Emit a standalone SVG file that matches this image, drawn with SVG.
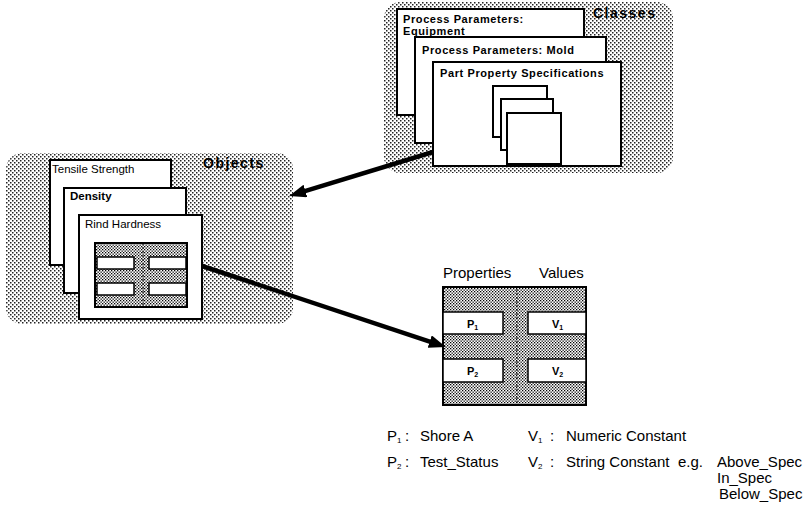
<svg xmlns="http://www.w3.org/2000/svg" width="804" height="511" viewBox="0 0 804 511">
<defs>
  <pattern id="lite" width="4" height="4" patternUnits="userSpaceOnUse">
    <rect width="4" height="4" fill="#fff"/>
    <rect x="0" y="0" width="1.5" height="1.5" fill="#222"/>
    <rect x="2" y="2" width="1.5" height="1.5" fill="#222"/>
  </pattern>
  <pattern id="dense" width="3" height="3" patternUnits="userSpaceOnUse">
    <rect width="3" height="3" fill="#fff"/>
    <rect x="0" y="0" width="1.3" height="1.3" fill="#000"/>
    <rect x="1.5" y="1.5" width="1.3" height="1.3" fill="#000"/>
  </pattern>
  <marker id="ah" markerUnits="userSpaceOnUse" markerWidth="17" markerHeight="13" refX="4" refY="6.5" orient="auto">
    <path d="M0,0 L17,6.5 L0,13 z" fill="#000"/>
  </marker>
  <style>
    .region { fill: url(#lite); stroke: none; }
    .card { fill: #fff; stroke: #000; stroke-width: 2; }
    .cell { fill: #fff; stroke: #000; stroke-width: 1.5; }
    .grid { fill: url(#dense); stroke: #000; stroke-width: 2; }
    .ttl { font-family: "Liberation Sans", Arial, sans-serif; font-size: 11px; font-weight: bold; letter-spacing: 0.6px; fill: #000; }
    .lbl { font-family: "Liberation Sans", Arial, sans-serif; font-size: 11.5px; fill: #000; }
    .big { font-family: "Liberation Sans", Arial, sans-serif; font-size: 14px; font-weight: bold; letter-spacing: 1.5px; fill: #000; }
    .hdr { font-family: "Liberation Sans", Arial, sans-serif; font-size: 15px; fill: #000; }
    .leg { font-family: "Liberation Sans", Arial, sans-serif; font-size: 15px; fill: #000; }
    .sm { font-family: "Liberation Sans", Arial, sans-serif; font-size: 11px; font-weight: bold; fill: #000; }
    .conn { stroke: #000; stroke-width: 4.5; fill: none; marker-end: url(#ah); }
    .dash { stroke: #000; stroke-width: 1; stroke-dasharray: 2 2; fill: none; }
  </style>
</defs>

<g id="classes">
  <rect class="region" x="384" y="2" width="289" height="171" rx="16"/>
  <text class="big" x="593" y="18">Classes</text>
  <g id="equipment">
    <rect class="card" x="397" y="9" width="187" height="106"/>
    <text class="ttl" x="403" y="23">Process Parameters:</text>
    <text class="ttl" x="403" y="35">Equipment</text>
  </g>
  <g id="mold">
    <rect class="card" x="415" y="37" width="191" height="106"/>
    <text class="ttl" x="422" y="54">Process Parameters:  Mold</text>
  </g>
  <g id="partspec">
    <rect class="card" x="433" y="62" width="188" height="104"/>
    <text class="ttl" x="440" y="77">Part Property Specifications</text>
    <rect class="card" x="493" y="86" width="54" height="51"/>
    <rect class="card" x="501" y="99" width="52" height="51"/>
    <rect class="card" x="507" y="113" width="54" height="51"/>
  </g>
</g>

<g id="objects">
  <rect class="region" x="6" y="153" width="287" height="171" rx="16"/>
  <text class="big" x="203" y="168">Objects</text>
  <g id="tensile">
    <rect class="card" x="50" y="160" width="121" height="105"/>
    <text class="lbl" x="52" y="173">Tensile Strength</text>
  </g>
  <g id="density">
    <rect class="card" x="64" y="188" width="122" height="105"/>
    <text class="lbl" x="70" y="200" font-weight="bold">Density</text>
  </g>
  <g id="rind">
    <rect class="card" x="79" y="215" width="123" height="104"/>
    <text class="lbl" x="85" y="228">Rind Hardness</text>
    <rect class="grid" x="95" y="243" width="92" height="64" stroke-width="1.5"/>
    <line class="dash" x1="143" y1="243" x2="143" y2="307"/>
    <rect class="cell" x="97" y="257" width="37" height="12"/>
    <rect class="cell" x="149" y="257" width="37" height="12"/>
    <rect class="cell" x="97" y="283" width="37" height="12"/>
    <rect class="cell" x="149" y="283" width="37" height="12"/>
  </g>
</g>

<g id="table">
  <text class="hdr" x="443" y="278">Properties</text>
  <text class="hdr" x="539" y="278">Values</text>
  <rect class="grid" x="443" y="287" width="143" height="118" stroke-width="2.5"/>
  <line class="dash" x1="517" y1="289" x2="517" y2="404" stroke-width="1.5"/>
  <rect class="cell" x="443" y="312" width="60" height="22"/>
  <rect class="cell" x="528" y="312" width="58" height="22"/>
  <rect class="cell" x="443" y="359" width="60" height="23"/>
  <rect class="cell" x="528" y="359" width="58" height="23"/>
  <text class="sm" x="467" y="328">P<tspan font-size="7" dy="2">1</tspan></text>
  <text class="sm" x="552" y="328">V<tspan font-size="7" dy="2">1</tspan></text>
  <text class="sm" x="467" y="375">P<tspan font-size="7" dy="2">2</tspan></text>
  <text class="sm" x="552" y="375">V<tspan font-size="7" dy="2">2</tspan></text>
</g>

<g id="legend">
  <text class="leg" x="387" y="441">P<tspan font-size="8" dy="2">1</tspan></text>
  <text class="leg" x="405" y="441">:</text>
  <text class="leg" x="420" y="441">Shore A</text>
  <text class="leg" x="528" y="441">V<tspan font-size="8" dy="2">1</tspan></text>
  <text class="leg" x="550" y="441">:</text>
  <text class="leg" x="566" y="441">Numeric Constant</text>
  <text class="leg" x="387" y="467">P<tspan font-size="8" dy="2">2</tspan></text>
  <text class="leg" x="405" y="467">:</text>
  <text class="leg" x="420" y="467">Test_Status</text>
  <text class="leg" x="528" y="467">V<tspan font-size="8" dy="2">2</tspan></text>
  <text class="leg" x="550" y="467">:</text>
  <text class="leg" x="566" y="467">String Constant</text>
  <text class="leg" x="678" y="467">e.g.</text>
  <text class="leg" x="717" y="467">Above_Spec</text>
  <text class="leg" x="717" y="483">In_Spec</text>
  <text class="leg" x="719" y="499">Below_Spec</text>
</g>

<g id="connectors">
  <line class="conn" x1="433" y1="152" x2="301.6" y2="192.1"/>
  <line class="conn" x1="202" y1="266" x2="433.5" y2="342.8"/>
</g>
</svg>
